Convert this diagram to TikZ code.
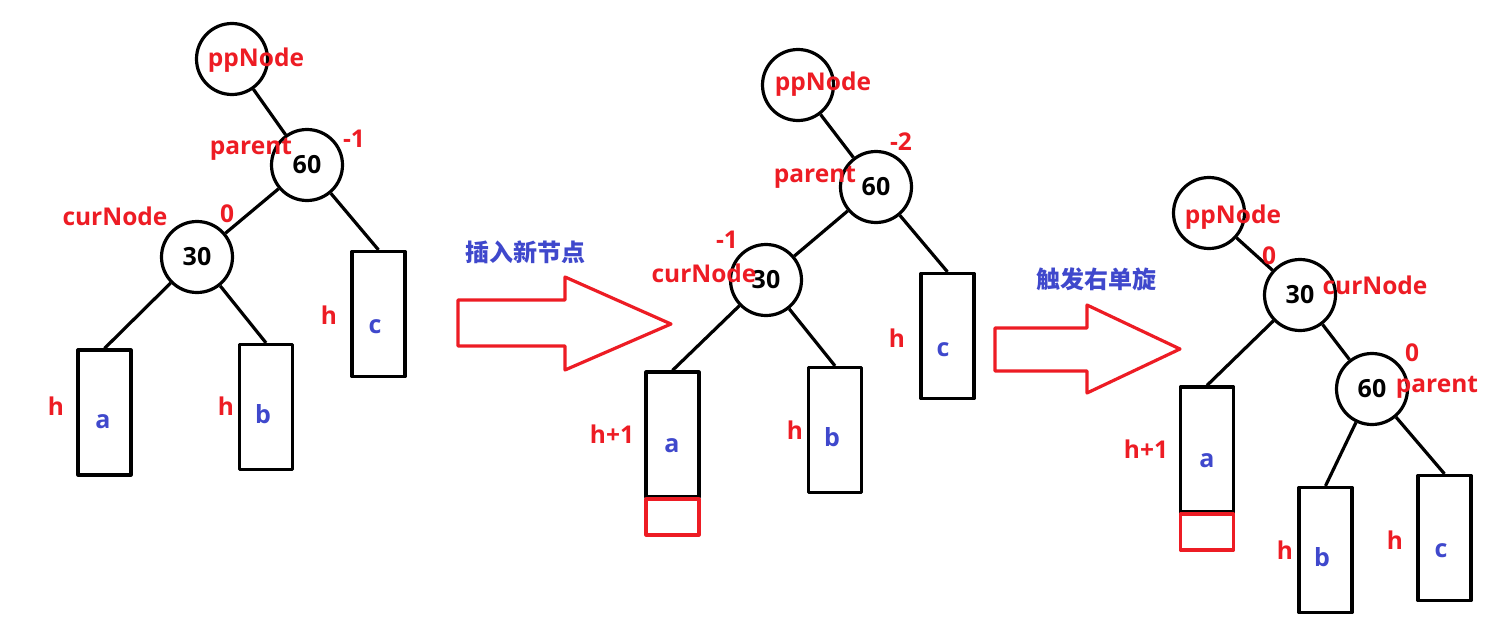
\documentclass[tikz,border=0pt]{standalone}
\usepackage{fontspec}
\setmainfont{Open Sans}
\newfontfamily\cjk{Noto Sans CJK SC}
\usetikzlibrary{positioning}
\definecolor{pred}{HTML}{ED1C24}
\definecolor{pblue}{HTML}{3F48CC}
\tikzset{
  tnode/.style={circle,draw,line width=3.2pt,minimum size=71pt,inner sep=0pt,font=\fontsize{25}{28}\selectfont\bfseries},
  subt/.style={rectangle,draw,line width=3.2pt,minimum width=53pt,minimum height=125pt,inner sep=0pt},
  newbox/.style={rectangle,draw=pred,line width=3.2pt,minimum width=53pt,minimum height=36pt,inner sep=0pt},
  edge/.style={line width=3.2pt},
  lab/.style={text=pred,inner sep=0pt,font=\fontsize{24.5}{28}\selectfont\bfseries},
  val/.style={text=pblue,inner sep=0pt,font=\fontsize{25}{28}\selectfont\bfseries},
  step label/.style={text=pblue,inner sep=0pt,font=\cjk\fontsize{24}{28}\selectfont\bfseries},
  bigarrow/.style={draw=pred,line width=3.2pt}
}
\begin{document}
\begin{tikzpicture}[x=1pt,y=-1pt,line join=round]
\useasboundingbox (0,0) rectangle (1507,629);
% before insertion
\node[tnode] (pp1) at (232,59) {};
\node[tnode] (sixty1) at (307,165) {60};
\node[tnode] (thirty1) at (197,257) {30};
\node[subt] (sa1) at (104.5,412.5) {};
\node[subt] (sb1) at (266,407) {};
\node[subt] (sc1) at (378.5,314) {};
\draw[edge] (pp1) -- (sixty1);
\draw[edge] (sixty1) -- (thirty1);
\draw[edge] (sixty1) -- (sc1.north);
\draw[edge] (thirty1) -- (sa1.north);
\draw[edge] (thirty1) -- (sb1.north);
\node[val] (la1) at (103,422) {a};
\node[val] (lb1) at (263,414) {b};
\node[val] (lc1) at (375,327) {c};
\node[lab] (ha1) at (56,406) {h};
\node[lab] (hb1) at (226,406) {h};
\node[lab] (hc1) at (329,315) {h};
\node[lab] (npp1) at (256,60) {ppNode};
\node[lab] (npar1) at (251,149) {parent};
\node[lab] (bf601) at (354,139) {-1};
\node[lab] (ncur1) at (115,216) {curNode};
\node[lab] (bf301) at (227,214) {0};

% arrow 1
\draw[bigarrow] (458,300) -- (565,300) -- (565,277) -- (671,324) -- (565,370) -- (565,346) -- (458,346) -- cycle;
\node[step label] (ins) at (525,252) {插入新节点};

% after insertion
\node[tnode] (pp2) at (798,85) {};
\node[tnode] (sixty2) at (876,187) {60};
\node[tnode] (thirty2) at (766,280) {30};
\node[subt] (sa2) at (672.5,434.5) {};
\node[subt] (sb2) at (835,430) {};
\node[subt] (sc2) at (947.5,336) {};
\node[newbox] (nw2) at (672.5,517) {};
\draw[edge] (pp2) -- (sixty2);
\draw[edge] (sixty2) -- (thirty2);
\draw[edge] (sixty2) -- (sc2.north);
\draw[edge] (thirty2) -- (sa2.north);
\draw[edge] (thirty2) -- (sb2.north);
\node[val] (la2) at (672,446) {a};
\node[val] (lb2) at (832,437) {b};
\node[val] (lc2) at (943,350) {c};
\node[lab] (ha2) at (612,434) {h+1};
\node[lab] (hb2) at (795,430) {h};
\node[lab] (hc2) at (897,338) {h};
\node[lab] (npp2) at (823,84) {ppNode};
\node[lab] (npar2) at (815,177) {parent};
\node[lab] (bf602) at (901,142) {-2};
\node[lab] (ncur2) at (704,273) {curNode};
\node[lab] (bf302) at (727,240) {-1};

% arrow 2
\draw[bigarrow] (995,328) -- (1087,328) -- (1087,305) -- (1180,349) -- (1087,393) -- (1087,371) -- (995,371) -- cycle;
\node[step label] (rot) at (1096,279) {触发右单旋};

% after right rotation
\node[tnode] (pp3) at (1209,213) {};
\node[tnode] (thirty3) at (1300,295) {30};
\node[tnode] (sixty3) at (1372,389) {60};
\node[subt] (sa3) at (1207,449.5) {};
\node[subt] (sb3) at (1325.5,550) {};
\node[subt] (sc3) at (1444.5,538) {};
\node[newbox] (nw3) at (1207,532) {};
\draw[edge] (pp3) -- (thirty3);
\draw[edge] (thirty3) -- (sa3.north);
\draw[edge] (thirty3) -- (sixty3);
\draw[edge] (sixty3) -- (sb3.north);
\draw[edge] (sixty3) -- (sc3.north);
\node[val] (la3) at (1207,461) {a};
\node[val] (lb3) at (1322,557) {b};
\node[val] (lc3) at (1441,551) {c};
\node[lab] (ha3) at (1146,449) {h+1};
\node[lab] (hb3) at (1285,550) {h};
\node[lab] (hc3) at (1395,540) {h};
\node[lab] (npp3) at (1233,217) {ppNode};
\node[lab] (bf303) at (1269,256) {0};
\node[lab] (ncur3) at (1375,285) {curNode};
\node[lab] (bf603) at (1412,353) {0};
\node[lab] (npar3) at (1437,387) {parent};
\end{tikzpicture}
\end{document}
